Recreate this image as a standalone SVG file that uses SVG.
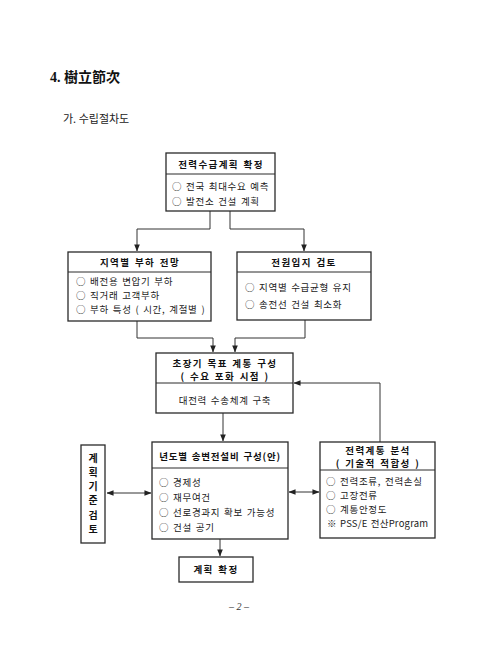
<svg xmlns="http://www.w3.org/2000/svg" width="480" height="657" viewBox="0 0 480 657">
<defs>
<style>
.bg{fill:#ffffff}
.box{fill:#ffffff;stroke:#2a2a2a;stroke-width:1.3}
.div{stroke:#2a2a2a;stroke-width:1}
.t{font-family:"Noto Sans CJK KR","Liberation Serif",serif;fill:#222;font-size:9.5px;letter-spacing:0.7px;word-spacing:1px}
.h{font-family:"Noto Sans CJK KR","Liberation Serif",serif;fill:#111;font-size:9.5px;font-weight:bold;letter-spacing:1.4px;word-spacing:1px;text-anchor:middle}
.v{font-family:"Noto Sans CJK KR",serif;fill:#111;font-size:10px;font-weight:bold;text-anchor:middle}
.c{fill:none;stroke:#333;stroke-width:1}
</style>
<marker id="ah" viewBox="0 0 8 8" refX="7.5" refY="4" markerWidth="7" markerHeight="7" orient="auto-start-reverse" markerUnits="userSpaceOnUse">
<path d="M0,0.8 L8,4 L0,7.2 Z" fill="#222"/>
</marker>
</defs>
<rect class="bg" x="0" y="0" width="480" height="657"/>

<text x="50" y="82" style="font-family:'Liberation Serif','Noto Sans CJK KR',serif;font-size:14px;font-weight:bold;fill:#111">4. 樹立節次</text>
<text x="63" y="123" style="font-family:'Noto Sans CJK KR',serif;font-size:11px;fill:#222">가. 수립절차도</text>

<g id="connectors">
<path class="c" d="M210,211 V229 H137 V251" marker-end="url(#ah)"/>
<path class="c" d="M230,211 V229 H304 V251" marker-end="url(#ah)"/>
<path class="c" d="M137,321 V338 H213 V352" marker-end="url(#ah)"/>
<path class="c" d="M305,320 V338 H235 V352" marker-end="url(#ah)"/>
<path class="c" d="M223,413 V441" marker-end="url(#ah)"/>
<path class="c" d="M380,442 V383 H294" marker-end="url(#ah)"/>
<path class="c" d="M107,493 H151" marker-start="url(#ah)" marker-end="url(#ah)"/>
<path class="c" d="M289,492 H319" marker-start="url(#ah)" marker-end="url(#ah)"/>
<path class="c" d="M220,539 V556" marker-end="url(#ah)"/>
</g>

<g id="n1">
<rect class="box" x="166" y="153" width="109" height="58"/>
<line class="div" x1="166" y1="174" x2="275" y2="174"/>
<text class="h" x="221" y="168">전력수급계획 확정</text>
<text class="t" x="172" y="190">○ 전국 최대수요 예측</text>
<text class="t" x="172" y="205">○ 발전소 건설 계획</text>
</g>

<g id="n2">
<rect class="box" x="68" y="252" width="143" height="69"/>
<line class="div" x1="68" y1="272" x2="211" y2="272"/>
<text class="h" x="140" y="266">지역별 부하 전망</text>
<text class="t" x="76" y="285">○ 배전용 변압기 부하</text>
<text class="t" x="76" y="299">○ 직거래 고객부하</text>
<text class="t" x="76" y="313">○ 부하 특성 ( 시간, 계절별 )</text>
</g>

<g id="n3">
<rect class="box" x="237" y="252" width="134" height="68"/>
<line class="div" x1="237" y1="272" x2="371" y2="272"/>
<text class="h" x="304" y="266">전원입지 검토</text>
<text class="t" x="245" y="291">○ 지역별 수급균형 유지</text>
<text class="t" x="245" y="308">○ 송전선 건설 최소화</text>
</g>

<g id="n4">
<rect class="box" x="156" y="353" width="137" height="60"/>
<line class="div" x1="156" y1="383" x2="293" y2="383"/>
<text class="h" x="225" y="367">초장기 목표 계통 구성</text>
<text class="h" x="225" y="380">( 수요 포화 시점 )</text>
<text class="t" x="225" y="404" style="text-anchor:middle">대전력 수송체계 구축</text>
</g>

<g id="n5">
<rect class="box" x="81" y="445" width="24" height="98"/>
<text class="v" x="93" y="462">계</text>
<text class="v" x="93" y="476">획</text>
<text class="v" x="93" y="490">기</text>
<text class="v" x="93" y="504">준</text>
<text class="v" x="93" y="519">검</text>
<text class="v" x="93" y="533">토</text>
</g>

<g id="n6">
<rect class="box" x="152" y="442" width="136" height="97"/>
<line class="div" x1="152" y1="468" x2="288" y2="468"/>
<text class="h" x="220" y="460" style="letter-spacing:0.8px">년도별 송변전설비 구성(안)</text>
<text class="t" x="159" y="486">○ 경제성</text>
<text class="t" x="159" y="501">○ 재무여건</text>
<text class="t" x="159" y="516">○ 선로경과지 확보 가능성</text>
<text class="t" x="159" y="531">○ 건설 공기</text>
</g>

<g id="n7">
<rect class="box" x="320" y="442" width="115" height="96"/>
<line class="div" x1="320" y1="470" x2="435" y2="470"/>
<text class="h" x="378" y="454">전력계통 분석</text>
<text class="h" x="378" y="467">( 기술적 적합성 )</text>
<text class="t" x="326" y="485">○ 전력조류, 전력손실</text>
<text class="t" x="326" y="499">○ 고장전류</text>
<text class="t" x="326" y="513">○ 계통안정도</text>
<text class="t" x="327" y="527" style="letter-spacing:0.2px">※ PSS/E 전산Program</text>
</g>

<g id="n8">
<rect class="box" x="179" y="557" width="74" height="25"/>
<text class="h" x="216" y="573">계획 확정</text>
</g>

<text x="239" y="610" style="font-family:'Liberation Serif',serif;font-size:10px;font-style:italic;fill:#333;text-anchor:middle">– 2 –</text>
</svg>
